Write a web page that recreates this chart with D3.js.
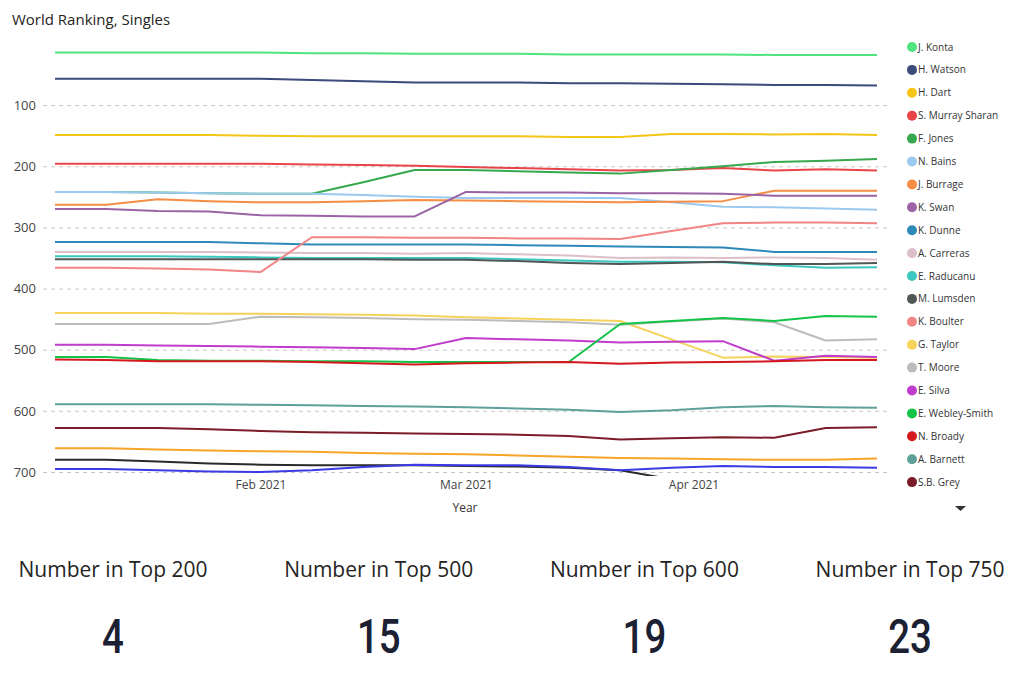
<!DOCTYPE html>
<html>
<head>
<meta charset="utf-8">
<script src="https://cdn.jsdelivr.net/npm/d3@7"></script>
<style>
	body { margin: 0; background: #fff; }
	svg { display: block; font-family: "Open Sans", "Noto Sans", sans-serif; }
	.grid line { stroke: #c8c8c8; stroke-dasharray: 4,4; }
	.axis text { fill: #444; }
</style>
</head>
<body>
<svg id="chart" width="1024" height="676"></svg>
<script>
//weekly ranking dates
var weeks = [ "2021-01-04", "2021-01-11", "2021-01-18", "2021-01-25", "2021-02-01", "2021-02-08", "2021-02-15", "2021-02-22", "2021-03-01", "2021-03-08", "2021-03-15", "2021-03-22", "2021-03-29", "2021-04-05", "2021-04-12", "2021-04-19", "2021-04-26" ];

var players = [ "J. Konta", "H. Watson", "H. Dart", "S. Murray Sharan", "F. Jones", "N. Bains", "J. Burrage", "K. Swan", "K. Dunne", "A. Carreras", "E. Raducanu", "M. Lumsden", "K. Boulter", "G. Taylor", "T. Moore", "E. Silva", "E. Webley-Smith", "N. Broady", "A. Barnett", "S.B. Grey" ];
//three more players sit below the legend scroll
var hiddenPlayers = [ "", "", "" ];

var colors = [ "#4fe47d", "#3c4a7c", "#f5c518", "#e8444a", "#36a94f", "#9cc9ef", "#f58d45", "#9b63a6", "#2d8ab8", "#dcbfc8", "#3cc7c0", "#505656", "#f28585", "#f5d25a", "#bcbcbc", "#c03ccc", "#14c448", "#d4181e", "#5fa19a", "#7b1c28", "#f7a428", "#2a2a2a", "#3b3be6" ];

var konta        = [ 14, 14, 14, 14, 14, 15, 15, 16, 16, 16, 17, 17, 17, 17, 18, 18, 18 ];
var watson       = [ 57, 57, 57, 57, 57, 59, 61, 63, 63, 63, 64, 64, 65, 66, 67, 67, 68 ];
var dart         = [ 149, 149, 149, 149, 150, 151, 151, 151, 151, 151, 152, 152, 147, 147, 148, 147, 149 ];
var murraySharan = [ 196, 196, 196, 196, 196, 197, 198, 199, 201, 203, 205, 207, 206, 203, 207, 205, 207 ];
var jones        = [ 242, 242, 243, 244, 245, 245, 226, 206, 206, 208, 210, 212, 206, 200, 193, 191, 188 ];
var bains        = [ 242, 242, 243, 244, 245, 245, 247, 250, 252, 252, 252, 252, 259, 266, 267, 269, 271 ];
var burrage      = [ 263, 263, 254, 257, 259, 259, 257, 255, 256, 257, 258, 259, 258, 257, 240, 240, 240 ];
var swan         = [ 270, 270, 273, 274, 280, 281, 282, 282, 242, 243, 243, 244, 244, 245, 248, 248, 248 ];
var dunne        = [ 324, 324, 324, 324, 326, 328, 328, 328, 328, 329, 330, 331, 332, 333, 340, 340, 340 ];
var carreras     = [ 340, 340, 340, 340, 341, 342, 342, 343, 342, 344, 346, 350, 349, 350, 349, 350, 353 ];
var raducanu     = [ 347, 347, 347, 348, 349, 350, 350, 350, 350, 352, 354, 356, 356, 357, 362, 366, 365 ];
var lumsden      = [ 352, 352, 352, 352, 352, 352, 352, 353, 353, 355, 358, 360, 358, 356, 360, 360, 358 ];
var boulter      = [ 366, 366, 367, 369, 373, 316, 316, 317, 317, 318, 318, 319, 306, 293, 292, 292, 293 ];
var taylor       = [ 440, 440, 440, 441, 441, 442, 443, 444, 447, 449, 451, 453, 483, 513, 511, 512, 513 ];
var moore        = [ 458, 458, 458, 458, 446, 447, 448, 450, 451, 453, 455, 459, 454, 449, 455, 485, 483 ];
var silva        = [ 492, 492, 493, 494, 495, 496, 497, 499, 481, 483, 485, 488, 487, 486, 518, 510, 512 ];
var webleySmith  = [ 512, 512, 517, 518, 518, 519, 519, 520, 520, 520, 520, 458, 453, 448, 453, 445, 446 ];
var broady       = [ 516, 517, 519, 519, 519, 520, 522, 524, 522, 521, 520, 523, 521, 520, 519, 517, 517 ];
var barnett      = [ 589, 589, 589, 589, 590, 591, 592, 593, 594, 596, 598, 602, 599, 594, 592, 594, 595 ];
var sbGrey       = [ 628, 628, 628, 630, 633, 635, 636, 637, 638, 639, 641, 647, 645, 643, 644, 628, 627 ];
var hiddenA      = [ 661, 661, 663, 665, 666, 667, 669, 670, 671, 673, 675, 677, 678, 679, 680, 680, 678 ];
var hiddenB      = [ 680, 680, 683, 686, 688, 689, 689, 689, 690, 691, 693, 697, 712, 720, 722, 724, 725 ];
var hiddenC      = [ 695, 695, 697, 699, 700, 697, 692, 688, 689, 689, 692, 697, 693, 690, 692, 692, 693 ];

var seriesValues = [ konta, watson, dart, murraySharan, jones, bains, burrage, swan, dunne, carreras, raducanu, lumsden, boulter, taylor, moore, silva, webleySmith, broady, barnett, sbGrey, hiddenA, hiddenB, hiddenC ];

var yTicks = [ 100, 200, 300, 400, 500, 600, 700 ];
var xTicks = [ "2021-02-01", "2021-03-01", "2021-04-01" ];

var cardLabels = [ "Number in Top 200", "Number in Top 500", "Number in Top 600", "Number in Top 750" ];
var cardValues = [ 4, 15, 19, 23 ];

;( function() {

	"use strict";

	var svg = d3.select( "#chart" ),
		parseDate = d3.timeParse( "%Y-%m-%d" ),
		dates = weeks.map( parseDate ),
		plotLeft = 43,
		plotRight = 888,
		plotTop = 40,
		plotBottom = 476;

	var x = d3.scaleTime()
		.domain( d3.extent( dates ) )
		.range( [ 55, 877 ] );

	var y = d3.scaleLinear()
		.domain( [ 0, 700 ] )
		.range( [ 44, 472 ] );

	//title
	svg.append( "text" )
		.attr( "x", 12 )
		.attr( "y", 25 )
		.style( "font-size", "15px" )
		.style( "fill", "#252423" )
		.text( "World Ranking, Singles" );

	//gridlines
	svg.append( "g" )
		.attr( "class", "grid" )
		.selectAll( "line" )
		.data( yTicks )
		.enter()
		.append( "line" )
			.attr( "x1", plotLeft )
			.attr( "x2", plotRight )
			.attr( "y1", function( d ) { return y( d ) + 0.5; } )
			.attr( "y2", function( d ) { return y( d ) + 0.5; } );

	//y axis
	var yAxis = svg.append( "g" )
		.attr( "class", "axis" )
		.attr( "transform", "translate(36,0)" )
		.call( d3.axisLeft( y ).tickValues( yTicks ).tickSize( 0 ).tickPadding( 0 ) );
	yAxis.select( ".domain" ).remove();
	yAxis.selectAll( "text" )
		.style( "font-size", "13px" )
		.style( "font-family", "'Open Sans', sans-serif" );

	//x axis
	var xAxis = svg.append( "g" )
		.attr( "class", "axis" )
		.attr( "transform", "translate(0,478)" )
		.call( d3.axisBottom( x ).tickValues( xTicks.map( parseDate ) ).tickSize( 0 ).tickPadding( 2 ).tickFormat( d3.timeFormat( "%b %Y" ) ) );
	xAxis.select( ".domain" ).remove();
	xAxis.selectAll( "text" )
		.style( "font-size", "12px" )
		.style( "font-family", "'Open Sans', sans-serif" );

	svg.append( "text" )
		.attr( "x", 465 )
		.attr( "y", 512 )
		.attr( "text-anchor", "middle" )
		.style( "font-size", "12px" )
		.style( "fill", "#333" )
		.text( "Year" );

	//lines
	svg.append( "clipPath" )
		.attr( "id", "plot-clip" )
		.append( "rect" )
			.attr( "x", plotLeft )
			.attr( "y", plotTop )
			.attr( "width", plotRight - plotLeft )
			.attr( "height", plotBottom - plotTop );

	var line = d3.line()
		.x( function( d, i ) { return x( dates[ i ] ); } )
		.y( function( d ) { return y( d ); } );

	svg.append( "g" )
		.attr( "clip-path", "url(#plot-clip)" )
		.selectAll( "path" )
		.data( seriesValues )
		.enter()
		.append( "path" )
			.attr( "d", line )
			.style( "fill", "none" )
			.style( "stroke", function( d, i ) { return colors[ i ]; } )
			.style( "stroke-width", 2 )
			.style( "stroke-linejoin", "round" );

	//legend
	var legendSteps = svg.append( "g" )
		.attr( "class", "legend" )
		.selectAll( "g" )
		.data( players )
		.enter()
		.append( "g" )
			.attr( "transform", function( d, i ) { return "translate(912," + ( 47 + i * 22.9 ) + ")"; } );
	legendSteps.append( "circle" )
		.attr( "r", 5 )
		.style( "fill", function( d, i ) { return colors[ i ]; } );
	legendSteps.append( "text" )
		.attr( "x", 6 )
		.attr( "y", 3.5 )
		.style( "font-size", "10px" )
		.style( "fill", "#333" )
		.text( function( d ) { return d; } );

	//scroll arrow
	svg.append( "path" )
		.attr( "d", "M955,506 L966,506 L960.5,511 Z" )
		.style( "fill", "#333" );

	//kpi cards
	var cards = svg.append( "g" )
		.selectAll( "g" )
		.data( cardLabels )
		.enter()
		.append( "g" )
			.attr( "transform", function( d, i ) { return "translate(" + ( 113 + i * 265.7 ) + ",0)"; } );
	cards.append( "text" )
		.attr( "y", 577 )
		.attr( "text-anchor", "middle" )
		.style( "font-size", "21px" )
		.style( "fill", "#252423" )
		.text( function( d ) { return d; } );
	//narrow digits, squeezed horizontally
	cards.append( "text" )
		.attr( "transform", "translate(0,653) scale(0.8,1)" )
		.attr( "text-anchor", "middle" )
		.style( "font-family", "Roboto, sans-serif" )
		.style( "font-weight", "500" )
		.style( "font-size", "48px" )
		.style( "fill", "#1b2033" )
		.text( function( d, i ) { return cardValues[ i ]; } );

})();
</script>
</body>
</html>
